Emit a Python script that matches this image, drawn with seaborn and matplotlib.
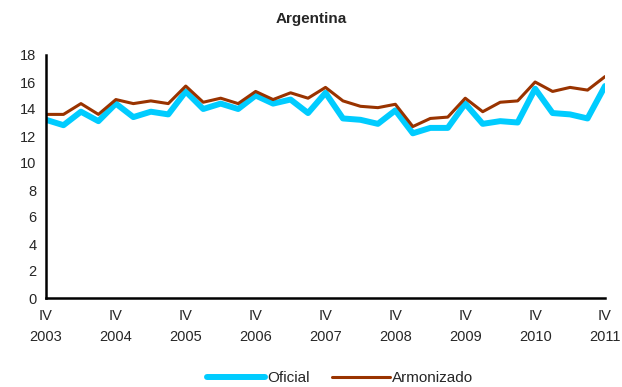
import pandas as pd
import matplotlib
matplotlib.use("Agg")
import matplotlib.pyplot as plt
import seaborn as sns

# Datos trimestrales IV-2003 a IV-2011
trimestres = list(range(33))
oficial = [13.2, 12.8, 13.8, 13.1, 14.4, 13.4, 13.8, 13.6, 15.3, 14.0,
           14.4, 14.0, 15.0, 14.4, 14.7, 13.7, 15.2, 13.3, 13.2, 12.9,
           13.9, 12.2, 12.6, 12.6, 14.4, 12.9, 13.1, 13.0, 15.5, 13.7,
           13.6, 13.3, 15.7]
armonizado = [13.6, 13.6, 14.4, 13.6, 14.7, 14.4, 14.6, 14.4, 15.7, 14.5,
              14.8, 14.4, 15.3, 14.7, 15.2, 14.8, 15.6, 14.6, 14.2, 14.1,
              14.35, 12.7, 13.3, 13.4, 14.8, 13.8, 14.5, 14.6, 16.0, 15.3,
              15.6, 15.4, 16.4]
tick_pos = [0, 4, 8, 12, 16, 20, 24, 28, 32]
tick_labels = ["IV\n2003", "IV\n2004", "IV\n2005", "IV\n2006", "IV\n2007",
               "IV\n2008", "IV\n2009", "IV\n2010", "IV\n2011"]
series = ["Oficial", "Armonizado"]
colores = {"Oficial": "#00CCFF", "Armonizado": "#993300"}

df = pd.DataFrame({
    "t": trimestres * 2,
    "valor": oficial + armonizado,
    "serie": [series[0]] * len(oficial) + [series[1]] * len(armonizado),
})

sns.set_style("white")
plt.rcParams["font.family"] = ["Liberation Sans", "DejaVu Sans"]
plt.rcParams["font.size"] = 10

fig = plt.figure(figsize=(6.22, 3.87), dpi=100)
ax = fig.add_axes([46 / 622, 1 - 298 / 387, (605 - 46) / 622, (298 - 55) / 387])

ax = sns.lineplot(data=df, x="t", y="valor", hue="serie", palette=colores,
                  ax=ax, legend=False)
ax.lines[0].set_linewidth(4.3)
ax.lines[1].set_linewidth(2.2)

ax.set_xlim(0, 32)
ax.set_ylim(0, 18)
ax.set_yticks(range(0, 19, 2))
ax.set_xticks(tick_pos)
ax.set_xticklabels(tick_labels, linespacing=1.6)
ax.set_xlabel("")
ax.set_ylabel("")
for s in ["top", "right"]:
    ax.spines[s].set_visible(False)
for s in ["left", "bottom"]:
    ax.spines[s].set_color("black")
    ax.spines[s].set_linewidth(1.8)
ax.tick_params(axis="both", direction="out", length=5, width=1.6,
               color="black", labelsize=10.5, pad=3)
ax.tick_params(axis="y", pad=2)

fig.suptitle("Argentina", fontweight="bold", fontsize=11, y=1 - 12 / 387,
             va="top")

handles = [plt.Line2D([], [], color=colores["Oficial"], lw=4.3),
           plt.Line2D([], [], color=colores["Armonizado"], lw=2.2)]
fig.legend(handles, series, loc="lower center", bbox_to_anchor=(0.547, -0.03),
           ncol=2, frameon=False, handlelength=3.8, handletextpad=0.1,
           columnspacing=1.5, fontsize=11)

fig.savefig("out.png", dpi=100)
